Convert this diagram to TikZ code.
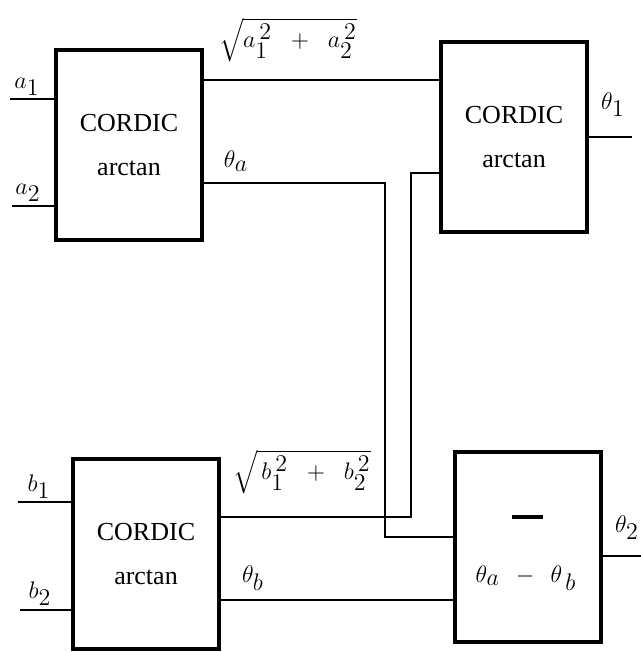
\documentclass[tikz,border=0pt]{standalone}
\usepackage{fontspec}
\setmainfont{Liberation Serif}
\usepackage{amsmath}
\usetikzlibrary{positioning}
\DeclareMathSizes{13}{13}{11.5}{10}
\begin{document}
\begin{tikzpicture}[
    x=0.5pt, y=-0.5pt,
    font=\fontsize{13}{22}\selectfont,
    block/.style={draw, line width=2pt, minimum width=73pt, minimum height=95pt,
        align=center, inner sep=0pt},
    wire/.style={line width=0.7pt},
    lbl/.style={inner sep=1pt, font=\fontsize{13}{15}\selectfont}
]
\useasboundingbox (0,0) rectangle (641,652);
% blocks
\node[block] (A) at (129,145) {CORDIC\\arctan};
\node[block] (B) at (514,137) {CORDIC\\arctan};
\node[block] (C) at (146,554) {CORDIC\\arctan};
\node[block] (D) at (528,547) {};
\node[lbl] (dtext) at (526,578) {$\theta_a \;\,-\;\, \theta_{\,b}$};
\draw[line width=2pt] (512,517) -- (543,517);
% end points and corners
\coordinate (a1) at (10,99);
\coordinate (a2) at (12,206);
\coordinate (b1) at (18,502);
\coordinate (b2) at (20,610);
\coordinate (sa) at (320,80);
\coordinate (ta) at (385,183);
\coordinate (tb) at (385,537);
\coordinate (ra) at (411,173);
\coordinate (rb) at (411,517);
\coordinate (tc) at (320,600);
\coordinate (t1) at (632,137);
\coordinate (t2) at (641,556);
% inputs
\draw[wire] (a1) -- (a1 -| A.west);
\draw[wire] (a2) -- (a2 -| A.west);
\draw[wire] (b1) -- (b1 -| C.west);
\draw[wire] (b2) -- (b2 -| C.west);
% connections
\draw[wire] (sa -| A.east) -- (sa -| B.west);
\draw[wire] (ta -| A.east) -- (ta) -- (tb) -- (tb -| D.west);
\draw[wire] (ra -| B.west) -- (ra) -- (rb) -- (rb -| C.east);
\draw[wire] (tc -| C.east) -- (tc -| D.west);
\draw[wire] (t1 -| B.east) -- (t1);
\draw[wire] (t2 -| D.east) -- (t2);
% labels
\node[lbl] (la1) at (27,87) {$a_1$};
\node[lbl] (la2) at (28,193) {$a_2$};
\node[lbl] (lb1) at (39,487) {$b_1$};
\node[lbl] (lb2) at (40,594) {$b_2$};
\node[lbl] (lta) at (236,161) {$\theta_a$};
\node[lbl] (ltb) at (253,578) {$\theta_b$};
\node[lbl] (lt1) at (613,105) {$\theta_1$};
\node[lbl] (lt2) at (627,528) {$\theta_2$};
\node[lbl] (lsa) at (288,40) {$\sqrt{a_1^{\,2} \;\;+\;\; a_2^{\,2}}$};
\node[lbl] (lsb) at (302,472) {$\sqrt{\,b_1^{\,2} \;\;+\;\; b_2^{\,2}}$};
\end{tikzpicture}
\end{document}
